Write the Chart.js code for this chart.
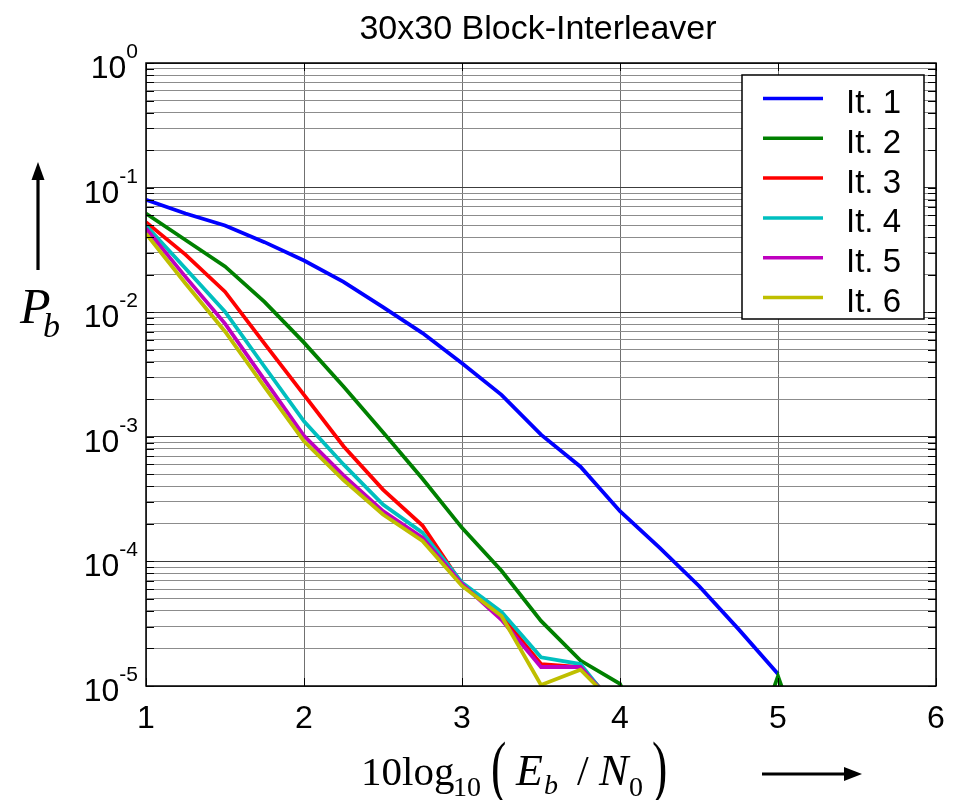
<!DOCTYPE html>
<html>
<head>
<meta charset="utf-8">
<script src="https://cdn.jsdelivr.net/npm/chart.js@4/dist/chart.umd.min.js"></script>
<style>
  html, body { margin: 0; padding: 0; background: #ffffff; }
  #wrap { width: 957px; height: 800px; position: relative; }
</style>
</head>
<body>
<div id="wrap"><canvas id="c" width="957" height="800"></canvas></div>
<script>
// ---- data ----
const ebn0 = [1, 1.25, 1.5, 1.75, 2, 2.25, 2.5, 2.75, 3, 3.25, 3.5, 3.75, 4, 4.25, 4.5, 4.75, 5, 5.25];
const it1 = [0.080, 0.062, 0.0497, 0.0365, 0.026, 0.0175, 0.011, 0.0068, 0.0039, 0.00217, 0.00104, 0.000575, 0.000253, 0.000129, 6.35e-5, 2.86e-5, 1.25e-5, null];
const it2 = [0.062, 0.038, 0.0233, 0.0121, 0.0057, 0.00253, 0.00109, 0.00046, 0.000186, 8.4e-5, 3.33e-5, 1.6e-5, 1.04e-5, 2e-6, 1e-6, 1.5e-6, 1.2e-5, 1.5e-6];
const it3 = [0.0528, 0.029, 0.0146, 0.0056, 0.00217, 0.00084, 0.000377, 0.000194, 6.55e-5, 3.65e-5, 1.5e-5, 1.42e-5, 6.5e-6, null, null, null, null, null];
const it4 = [0.0497, 0.0224, 0.0101, 0.00365, 0.00133, 0.0006, 0.000286, 0.00017, 6.77e-5, 3.94e-5, 1.7e-5, 1.5e-5, 6e-6, null, null, null, null, null];
const it5 = [0.047, 0.0192, 0.0081, 0.00286, 0.00102, 0.00049, 0.000253, 0.000155, 6.6e-5, 3.4e-5, 1.42e-5, 1.42e-5, 6.2e-6, null, null, null, null, null];
const it6 = [0.0427, 0.017, 0.007, 0.00252, 0.00092, 0.00045, 0.000238, 0.000146, 6.35e-5, 3.65e-5, 1.02e-5, 1.35e-5, 6.5e-6, null, null, null, null, null];

const seriesNames = ['It. 1', 'It. 2', 'It. 3', 'It. 4', 'It. 5', 'It. 6'];
const seriesValues = [it1, it2, it3, it4, it5, it6];
const seriesColors = ['#0000ff', '#008000', '#ff0000', '#00bfbf', '#bf00bf', '#bfbf00'];

const xTickValues = [1, 2, 3, 4, 5, 6];
const xTickLabels = ['1', '2', '3', '4', '5', '6'];
const yTickExponents = [0, -1, -2, -3, -4, -5];
const yTickLabelBase = '10';
const yMinorMantissas = [2, 3, 4, 5, 6, 7, 8, 9];

const titleText = '30x30 Block-Interleaver';

// ---- build ----
const yTickValues = [];
yTickExponents.forEach(e => {
  yTickValues.push({ value: Math.pow(10, e), major: true });
  if (e < 0) yMinorMantissas.forEach(m => yTickValues.push({ value: m * Math.pow(10, e), major: false }));
});
yTickValues.sort((a, b) => a.value - b.value);

const datasets = seriesValues.map((vals, i) => ({
  label: seriesNames[i],
  data: ebn0.map((x, j) => ({ x: x, y: vals[j] })),
  borderColor: seriesColors[i],
  backgroundColor: seriesColors[i],
  borderWidth: 3.8,
  pointRadius: 0,
  tension: 0,
  spanGaps: false,
  fill: false,
  clip: 0,
  order: seriesValues.length - i
}));

const SANS = '"Liberation Sans", Arial, Helvetica, sans-serif';
const SERIF = '"Liberation Serif", "Times New Roman", Times, serif';

const decor = {
  id: 'decor',
  beforeDraw(chart) {
    const ctx = chart.ctx;
    ctx.save();
    ctx.fillStyle = '#ffffff';
    ctx.fillRect(0, 0, chart.width, chart.height);
    ctx.restore();
  },
  afterDraw(chart) {
    const ctx = chart.ctx;
    const ca = chart.chartArea;
    const xs = chart.scales.x, ys = chart.scales.y;
    ctx.save();

    // tick marks (inside, both sides)
    ctx.strokeStyle = '#000';
    ctx.lineWidth = 1;
    yTickValues.forEach(t => {
      const y = Math.round(ys.getPixelForValue(t.value)) + 0.5;
      const L = 8;
      ctx.beginPath();
      ctx.moveTo(ca.left, y); ctx.lineTo(ca.left + L, y);
      ctx.moveTo(ca.right, y); ctx.lineTo(ca.right - L, y);
      ctx.stroke();
    });
    xTickValues.forEach(v => {
      const x = Math.round(xs.getPixelForValue(v)) + 0.5;
      ctx.beginPath();
      ctx.moveTo(x, ca.bottom); ctx.lineTo(x, ca.bottom - 8);
      ctx.moveTo(x, ca.top); ctx.lineTo(x, ca.top + 8);
      ctx.stroke();
    });

    // frame
    ctx.lineWidth = 1.5;
    ctx.strokeRect(ca.left, ca.top, ca.right - ca.left, ca.bottom - ca.top);

    // legend
    const lg = { left: 742, top: 75, right: 924, bottom: 319 };
    ctx.fillStyle = '#fff';
    ctx.fillRect(lg.left, lg.top, lg.right - lg.left, lg.bottom - lg.top);
    ctx.lineWidth = 1.5;
    ctx.strokeStyle = '#000';
    ctx.strokeRect(lg.left, lg.top, lg.right - lg.left, lg.bottom - lg.top);
    ctx.font = '33px ' + SANS;
    ctx.textAlign = 'left';
    ctx.textBaseline = 'alphabetic';
    seriesNames.forEach((name, i) => {
      const ry = 98.5 + i * 39.8;
      ctx.strokeStyle = seriesColors[i];
      ctx.lineWidth = 3.5;
      ctx.beginPath();
      ctx.moveTo(763, ry); ctx.lineTo(823, ry);
      ctx.stroke();
      ctx.fillStyle = '#000';
      ctx.fillText(name, 846, ry + 14.5);
    });

    // title
    ctx.fillStyle = '#000';
    ctx.font = '34px ' + SANS;
    ctx.textAlign = 'center';
    ctx.fillText(titleText, 538, 39);

    // x tick labels
    ctx.font = '32px ' + SANS;
    ctx.textAlign = 'center';
    xTickValues.forEach((v, i) => {
      ctx.fillText(xTickLabels[i], xs.getPixelForValue(v), 728);
    });

    // y tick labels with superscript exponents
    yTickExponents.forEach(e => {
      const gy = ys.getPixelForValue(Math.pow(10, e));
      const sup = String(e);
      ctx.font = '21px ' + SANS;
      const ws = ctx.measureText(sup).width;
      ctx.font = '32px ' + SANS;
      const wb = ctx.measureText(yTickLabelBase).width;
      const right = 138;
      ctx.textAlign = 'left';
      ctx.fillText(yTickLabelBase, right - ws - wb, gy + 15);
      ctx.font = '21px ' + SANS;
      ctx.fillText(sup, right - ws, gy - 5);
    });

    // y axis label P_b with arrow
    ctx.font = 'italic 50px ' + SERIF;
    ctx.textAlign = 'left';
    ctx.fillText('P', 20, 323);
    ctx.font = 'italic 34px ' + SERIF;
    ctx.fillText('b', 43, 337);
    ctx.strokeStyle = '#000';
    ctx.lineWidth = 3.2;
    ctx.beginPath();
    ctx.moveTo(38, 270); ctx.lineTo(38, 176);
    ctx.stroke();
    ctx.beginPath();
    ctx.moveTo(38, 162); ctx.lineTo(31.5, 180); ctx.lineTo(44.5, 180); ctx.closePath();
    ctx.fillStyle = '#000';
    ctx.fill();

    // x axis label 10log10(Eb/N0) with arrow
    const base = 785;
    const put = (txt, font, x, y) => { ctx.font = font; ctx.fillText(txt, x, y); };
    const paren = (ch, px) => {
      ctx.save();
      ctx.font = '46px ' + SERIF;
      ctx.translate(px, 790);
      ctx.scale(1, 1.5);
      ctx.fillText(ch, 0, 0);
      ctx.restore();
    };
    put('10log', '41px ' + SERIF, 361, base);
    put('10', '28px ' + SERIF, 453, base + 11);
    paren('(', 491);
    put('E', 'italic 44px ' + SERIF, 516, base);
    put('b', 'italic 28px ' + SERIF, 544, base + 9);
    put('/', '42px ' + SERIF, 577, base);
    put('N', 'italic 44px ' + SERIF, 599, base);
    put('0', '28px ' + SERIF, 629, base + 11);
    paren(')', 652);

    ctx.lineWidth = 3.2;
    ctx.beginPath();
    ctx.moveTo(762, 774); ctx.lineTo(848, 774);
    ctx.stroke();
    ctx.beginPath();
    ctx.moveTo(862, 774); ctx.lineTo(844, 767); ctx.lineTo(844, 781); ctx.closePath();
    ctx.fill();

    ctx.restore();
  }
};

new Chart(document.getElementById('c'), {
  type: 'line',
  data: { datasets: datasets },
  options: {
    responsive: false,
    animation: false,
    devicePixelRatio: 1,
    layout: { padding: { left: 146, right: 21, top: 63, bottom: 114 } },
    plugins: { legend: { display: false }, tooltip: { enabled: false }, title: { display: false } },
    scales: {
      x: {
        type: 'linear', min: 1, max: 6,
        ticks: { display: false, stepSize: 1 },
        afterBuildTicks: (s) => { s.ticks = xTickValues.map(v => ({ value: v })); },
        grid: { color: '#707070', lineWidth: 1, drawTicks: false },
        border: { display: false }
      },
      y: {
        type: 'logarithmic', min: 1e-5, max: 1,
        ticks: { display: false, autoSkip: false },
        afterBuildTicks: (s) => { s.ticks = yTickValues.map(t => ({ value: t.value, major: t.major })); },
        grid: {
          drawTicks: false,
          lineWidth: 1,
          color: (c) => (c.tick && c.tick.major) ? '#3c3c3c' : '#8c8c8c'
        },
        border: { display: false }
      }
    }
  },
  plugins: [decor]
});
</script>
</body>
</html>
